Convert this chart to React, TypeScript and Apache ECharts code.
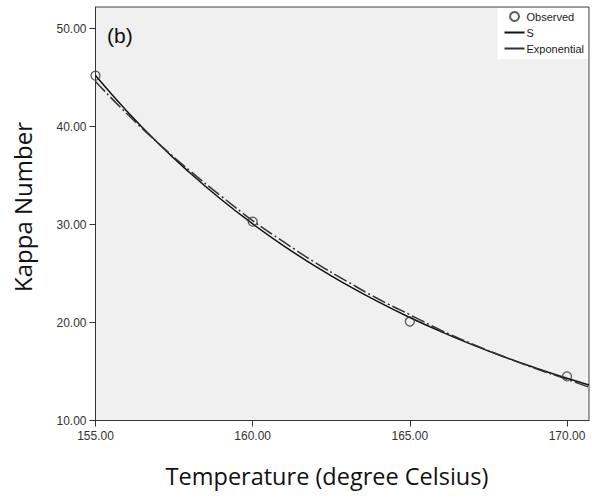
import React, { useEffect, useRef } from "react";
import * as echarts from "echarts";

const observedX = [155, 160, 165, 170];
const observedY = [45.2, 30.3, 20.1, 14.5];

const curveX = [155, 156, 157, 158, 159, 160, 161, 162, 163, 164, 165, 166, 167, 168, 169, 170, 170.7];
const sCurveY = [45.2, 41.56, 38.27, 35.28, 32.55, 30.07, 27.8, 25.73, 23.84, 22.1, 20.51, 19.06, 17.72, 16.49, 15.36, 14.31, 13.63];
const expCurveY = [44.6, 41.3, 38.3, 35.5, 32.9, 30.4, 28.2, 26.1, 24.2, 22.4, 20.8, 19.2, 17.8, 16.5, 15.3, 14.2, 13.4];

const xTicks = { min: 155, max: 170.7, interval: 5 };
const yTicks = { min: 10, max: 52.2, interval: 10 };

const seriesNames = ["Observed", "S", "Exponential"];
const panelLabel = "(b)";
const xTitle = "Temperature (degree Celsius)";
const yTitle = "Kappa Number";

export default function App() {
  const ref = useRef<HTMLDivElement>(null);
  useEffect(() => {
    document.body.style.margin = "0";
    if (!ref.current) return;
    const chart = echarts.init(ref.current, undefined, { renderer: "svg" });
    const labelStyle = { fontFamily: "Arial, 'Liberation Sans', sans-serif", fontSize: 12, color: "#333" };
    chart.setOption({
      animation: false,
      backgroundColor: "#fff",
      grid: {
        left: 95.5,
        top: 7,
        right: 3,
        bottom: 77.5,
        show: true,
        backgroundColor: "#f0f0f0",
        borderColor: "#444",
        borderWidth: 1,
      },
      xAxis: {
        type: "value",
        min: xTicks.min,
        max: xTicks.max,
        interval: xTicks.interval,
        axisLine: { show: true, onZero: false, lineStyle: { color: "#333", width: 1 } },
        axisTick: { show: true, inside: false, length: 6, lineStyle: { color: "#333" } },
        axisLabel: { ...labelStyle, margin: 9, formatter: (v: number) => v.toFixed(2), showMaxLabel: false },
        splitLine: { show: false },
      },
      yAxis: {
        type: "value",
        min: yTicks.min,
        max: yTicks.max,
        interval: yTicks.interval,
        axisLine: { show: true, onZero: false, lineStyle: { color: "#333", width: 1 } },
        axisTick: { show: true, inside: false, length: 6, lineStyle: { color: "#333" } },
        axisLabel: { ...labelStyle, margin: 9, formatter: (v: number) => v.toFixed(2), showMaxLabel: false },
        splitLine: { show: false },
      },
      legend: {
        orient: "vertical",
        right: 4,
        top: 8,
        backgroundColor: "#fff",
        padding: [3, 4, 5, 6],
        itemGap: 5,
        itemWidth: 20,
        itemHeight: 9,
        textStyle: { fontFamily: "Arial, 'Liberation Sans', sans-serif", fontSize: 11, color: "#222", padding: [0, 0, 0, -3] },
        data: [
          { name: seriesNames[0] },
          { name: seriesNames[1], itemStyle: { opacity: 0 } },
          { name: seriesNames[2], itemStyle: { opacity: 0 }, lineStyle: { type: "solid" } },
        ],
      },
      graphic: [
        {
          type: "text",
          left: 107,
          top: 25,
          style: { text: panelLabel, fontFamily: "Arial, 'Liberation Sans', sans-serif", fontSize: 21, fill: "#111" },
        },
        {
          type: "text",
          x: 327,
          y: 476,
          style: {
            text: xTitle,
            fontFamily: "'Open Sans', sans-serif",
            fontSize: 23.5,
            fill: "#111",
            align: "center",
            verticalAlign: "middle",
          },
        },
        {
          type: "text",
          x: 22,
          y: 207,
          rotation: Math.PI / 2,
          style: {
            text: yTitle,
            fontFamily: "'Open Sans', sans-serif",
            fontSize: 24,
            fill: "#111",
            align: "center",
            verticalAlign: "middle",
          },
        },
      ],
      series: [
        {
          name: seriesNames[0],
          type: "scatter",
          symbol: "circle",
          symbolSize: 9,
          itemStyle: { color: "rgba(0,0,0,0)", borderColor: "#333", borderWidth: 1.3 },
          data: observedX.map((x, i) => [x, observedY[i]]),
          z: 5,
        },
        {
          name: seriesNames[1],
          type: "line",
          symbol: "none",
          smooth: true,
          lineStyle: { color: "#111", width: 1.5 },
          itemStyle: { color: "#111" },
          data: curveX.map((x, i) => [x, sCurveY[i]]),
        },
        {
          name: seriesNames[2],
          type: "line",
          symbol: "none",
          smooth: true,
          lineStyle: { color: "#333", width: 1.5, type: [14, 3, 2, 3] },
          itemStyle: { color: "#333" },
          data: curveX.map((x, i) => [x, expCurveY[i]]),
        },
      ],
    });
    return () => chart.dispose();
  }, []);
  return <div ref={ref} style={{ width: 592, height: 498 }} />;
}
